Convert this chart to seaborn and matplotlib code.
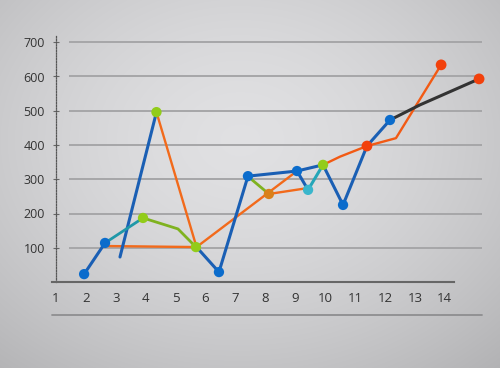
import numpy as np
import pandas as pd
import matplotlib
matplotlib.use("Agg")
import matplotlib.pyplot as plt
import seaborn as sns
from matplotlib.lines import Line2D

sns.set_theme(style="white")
plt.rcParams['font.family'] = ['Open Sans', 'DejaVu Sans']

# ---- data ----
x_ticks = list(range(1, 15))
y_ticks = [100, 200, 300, 400, 500, 600, 700]

blue_a_x = [1.94, 2.64];  blue_a_y = [23, 114]
blue_b_x = [3.14, 4.36];  blue_b_y = [73, 496]
blue_c_x = [5.70, 6.45, 7.42, 9.06, 9.93, 10.6, 11.4, 12.17]
blue_c_y = [102, 29, 309, 324, 342, 225, 397, 473]
blue_d_x = [9.06, 9.43];  blue_d_y = [324, 269]

teal_a_x = [2.64, 3.91];  teal_a_y = [114, 187]
teal_b_x = [9.43, 9.93];  teal_b_y = [269, 342]

green_a_x = [3.91, 5.08, 5.68];  green_a_y = [187, 155, 102]
green_b_x = [7.56, 8.12];        green_b_y = [298, 257]

orange_a_x = [2.71, 5.70];             orange_a_y = [105, 102]
orange_b_x = [4.36, 5.70, 9.06];       orange_b_y = [496, 102, 324]
orange_c_x = [8.12, 9.40];             orange_c_y = [257, 274]
orange_d_x = [9.93, 10.5, 11.4, 12.37, 13.88]
orange_d_y = [342, 366, 397, 420, 634]

dark_x = [12.17, 13.17, 15.15];  dark_y = [473, 517, 593]

blue_pts_x = [1.94, 2.64, 6.45, 7.42, 9.06, 10.6, 12.17]
blue_pts_y = [23, 114, 29, 309, 324, 225, 473]
green_pts_x = [3.91, 4.36, 5.68, 9.93]
green_pts_y = [187, 496, 102, 342]
cyan_pts_x = [9.43];  cyan_pts_y = [269]
amber_pts_x = [8.12]; amber_pts_y = [257]
red_pts_x = [11.4, 13.88, 15.15]
red_pts_y = [397, 634, 593]

# ---- figure ----
fig = plt.figure(figsize=(5.0, 3.68), dpi=100)

# background gradient
bg = fig.add_axes([0, 0, 1, 1], zorder=-10)
gy, gx = np.mgrid[0:368, 0:500]
r = np.sqrt(((gx - 240) / 330.0) ** 2 + ((gy - 140) / 260.0) ** 2)
shade = 0.88 - 0.14 * np.clip(r, 0, 1.2) ** 1.6
img = np.dstack([shade, shade, shade + 0.008])
bg.imshow(np.clip(img, 0, 1), aspect='auto', extent=[0, 1, 0, 1])
bg.set_axis_off()

ax = fig.add_axes([56 / 500, (368 - 282) / 368, 426 / 500, 246.6 / 368])
ax.set_facecolor('none')
ax.set_xlim(1, 1 + 426 / 29.9)
ax.set_ylim(0, 720)

# grid lines (start a bit to the right of the axis)
for yv in y_ticks:
    ax.hlines(yv, 13 / 426, 1.0, transform=ax.get_yaxis_transform(),
              color='#a6a6a8', lw=1.4, zorder=1)

def seg(xs, ys, color, lw, z=3):
    sns.lineplot(x=xs, y=ys, ax=ax, color=color, lw=lw, sort=False,
                 estimator=None, zorder=z, solid_capstyle='round')

seg(orange_a_x, orange_a_y, '#f26a1b', 1.7)
seg(orange_b_x, orange_b_y, '#f26a1b', 1.7)
seg(orange_c_x, orange_c_y, '#f26a1b', 1.7)
seg(orange_d_x, orange_d_y, '#f25a14', 1.7)
seg(green_a_x, green_a_y, '#7fb21f', 2.0)
seg(green_b_x, green_b_y, '#7fb21f', 2.0)
seg(blue_a_x, blue_a_y, '#1a5fb4', 2.2, 4)
seg(blue_b_x, blue_b_y, '#1a5fb4', 2.2, 4)
seg(blue_c_x, blue_c_y, '#1a5fb4', 2.2, 4)
seg(blue_d_x, blue_d_y, '#1a5fb4', 2.2, 4)
seg(teal_a_x, teal_a_y, '#1f98a8', 2.0, 4)
seg(teal_b_x, teal_b_y, '#25a6b8', 2.2, 4)
seg(dark_x, dark_y, '#333333', 2.2, 4)

def pts(xs, ys, color, s=55):
    sns.scatterplot(x=xs, y=ys, ax=ax, color=color, s=s, edgecolor='none',
                    zorder=6, clip_on=False)

pts(blue_pts_x, blue_pts_y, '#0b6ccc')
pts(green_pts_x, green_pts_y, '#92cc1a')
pts(cyan_pts_x, cyan_pts_y, '#3ab6cc')
pts(amber_pts_x, amber_pts_y, '#d9801a')
pts(red_pts_x, red_pts_y, '#f2410c', 60)

# axes styling
ax.set_xticks(x_ticks)
ax.set_xticklabels([str(v) for v in x_ticks])
ax.set_yticks(y_ticks)
ax.set_yticklabels([str(v) for v in y_ticks])
ax.tick_params(axis='x', length=0, pad=7, labelsize=9.5, labelcolor='#333333')
ax.tick_params(axis='y', direction='inout', length=4, width=0.8,
               color='#666666', pad=6, labelsize=9, labelcolor='#333333', left=True)
for s in ['top', 'right']:
    ax.spines[s].set_visible(False)
ax.spines['left'].set_linestyle((0, (1, 1.2)))
ax.spines['left'].set_color('#555555')
ax.spines['left'].set_linewidth(0.9)
ax.spines['bottom'].set_linestyle((0, (1, 1)))
ax.spines['bottom'].set_color('#666666')
ax.spines['bottom'].set_linewidth(1.5)
ax.spines['bottom'].set_bounds(0.85, 14.3)

# lower rule
fig.add_artist(Line2D([52 / 500, 482 / 500], [(368 - 315) / 368] * 2,
                      color='#8e8e90', lw=1.3))

fig.savefig('out.png', dpi=100)
